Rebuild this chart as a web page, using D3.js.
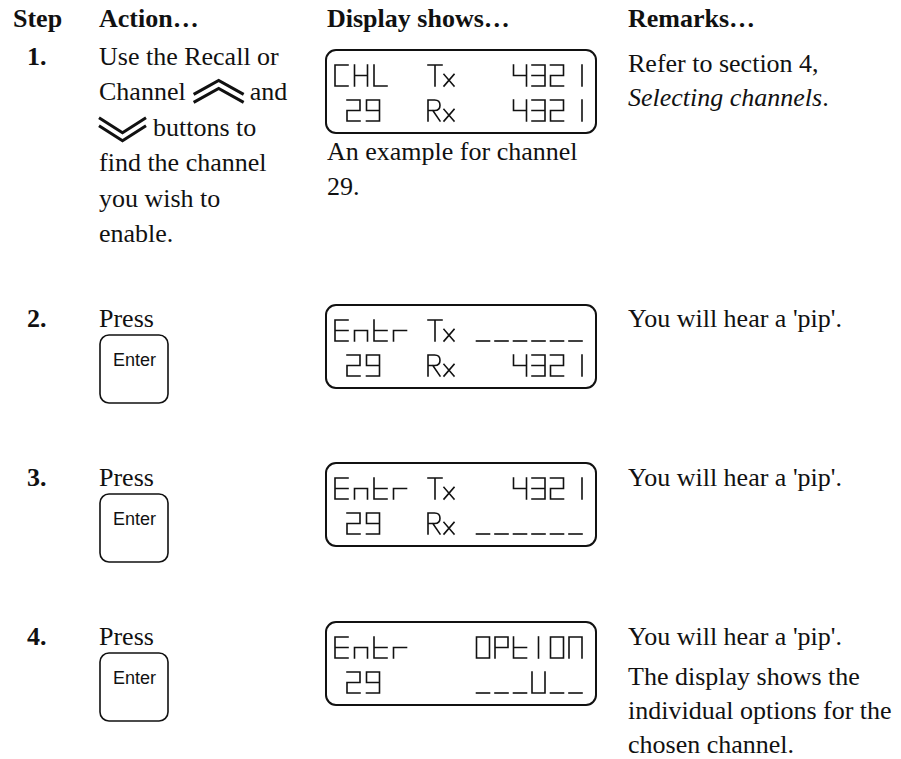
<!DOCTYPE html>
<html><head><meta charset="utf-8">
<script src="https://cdn.jsdelivr.net/npm/d3@7"></script>
<style>html,body{margin:0;padding:0;background:#fff}svg{display:block}</style>
</head><body><div id="chart"></div>
<script>
// ---------- data ----------
const headers = ["Step", "Action\u2026", "Display shows\u2026", "Remarks\u2026"];
const stepLabels = ["1.", "2.", "3.", "4."];
const actionLines = [
  ["Use the Recall or", "Channel [up] and", "[down] buttons to", "find the channel", "you wish to", "enable."],
  ["Press"], ["Press"], ["Press"]
];
const buttonKeys = [null, "Enter", "Enter", "Enter"];
const displayLeft  = [["CHL", "29"], ["Entr", "29"], ["Entr", "29"], ["Entr", "29"]];
const displayLabel = [["Tx", "Rx"], ["Tx", "Rx"], ["Tx", "Rx"], ["", ""]];
const displayRight = [["4321", "4321"], ["______", "4321"], ["4321", "______"], ["OPtION", "___U__"]];
const captions = [["An example for channel", "29."], [], [], []];
const remarks = [
  [[[{t: "Refer to section 4,"}], [{t: "Selecting channels", i: true}, {t: "."}]]],
  [[[{t: "You will hear a 'pip'."}]]],
  [[[{t: "You will hear a 'pip'."}]]],
  [[[{t: "You will hear a 'pip'."}]],
   [[{t: "The display shows the"}], [{t: "individual options for the"}], [{t: "chosen channel."}]]]
];

// ---------- layout ----------
const W = 901, H = 759;
const serif = "'Liberation Serif','Times New Roman',Times,serif";
const sans = "'Liberation Sans',Arial,Helvetica,sans-serif";
const FS = 26, lineH = 35.4, remLineH = 34, paraGap = 6;
const headerX = [13, 99, 327, 628];
const headerBase = 27;
const stepX = 27, actionX = 99, dispX = 327, remX = 628;
const rowBase = [65, 327, 486, 645];
const boxTop = [50, 305, 463, 622];
const remOffset = [7, 0, 0, 0];
const ink = "#111";

const svg = d3.select("#chart").append("svg").attr("width", W).attr("height", H);

// headers
svg.append("g").selectAll("text").data(headers).join("text")
  .attr("x", (d, i) => headerX[i]).attr("y", headerBase)
  .attr("font-family", serif).attr("font-size", FS).attr("font-weight", "bold")
  .attr("fill", ink).text(d => d);

// step numbers
svg.append("g").selectAll("text").data(stepLabels).join("text")
  .attr("x", stepX).attr("y", (d, i) => rowBase[i])
  .attr("font-family", serif).attr("font-size", FS).attr("font-weight", "bold")
  .attr("fill", ink).text(d => d);

// chevrons
function upChevron(g, x0, b) {
  const w = 50;
  [[-20, -6], [-12, 2]].forEach(([ap, en]) => {
    g.append("path").attr("d", `M${x0},${b + en}L${x0 + w / 2},${b + ap}L${x0 + w},${b + en}`)
      .attr("fill", "none").attr("stroke", ink).attr("stroke-width", 3);
  });
  return w;
}
function downChevron(g, x0, b) {
  const w = 47;
  [[-18, -3], [-10, 5]].forEach(([en, ap]) => {
    g.append("path").attr("d", `M${x0},${b + en}L${x0 + w / 2},${b + ap}L${x0 + w},${b + en}`)
      .attr("fill", "none").attr("stroke", ink).attr("stroke-width", 3);
  });
  return w;
}
function serifText(g, x, y, str, italic) {
  return g.append("text").attr("x", x).attr("y", y)
    .attr("font-family", serif).attr("font-size", FS)
    .attr("font-style", italic ? "italic" : "normal")
    .attr("fill", ink).text(str);
}

// actions
actionLines.forEach((lines, i) => {
  const g = svg.append("g");
  lines.forEach((line, j) => {
    const b = rowBase[i] + j * lineH;
    const parts = line.split(/(\[up\]|\[down\])/).map(s => s.trim()).filter(s => s.length);
    let x = actionX;
    parts.forEach(p => {
      if (p === "[up]") { x += 8 + upChevron(g, x + 8, b) + 6; }
      else if (p === "[down]") { x += downChevron(g, x, b) + 7; }
      else {
        const t = serifText(g, x, b, p);
        x += t.node().getComputedTextLength();
      }
    });
  });
});

// buttons
buttonKeys.forEach((k, i) => {
  if (!k) return;
  const top = rowBase[i] + 8;
  svg.append("rect").attr("x", 100).attr("y", top).attr("width", 68).attr("height", 68)
    .attr("rx", 9).attr("fill", "#fff").attr("stroke", ink).attr("stroke-width", 1.6);
  svg.append("text").attr("x", 113).attr("y", top + 31)
    .attr("font-family", sans).attr("font-size", 18).attr("fill", ink).text(k);
});

// ---------- LCD glyphs ----------
const SEG = {
  "0": "abcdef", "O": "abcdef", "1": "bc", "2": "abged", "3": "abgcd", "4": "fgbc", "9": "abcdfg",
  "C": "afed", "H": "febcg", "L": "fed", "E": "afged", "n": "gec", "t": "fedg", "r": "eg",
  "P": "abfge", "N": "abcef", "U": "bcdef", "_": "d"
};
function segLines(s, w, h) {
  const m = h / 2;
  const L = {a: [0, 0, w, 0], b: [w, 0, w, m], c: [w, m, w, h], d: [0, h, w, h],
             e: [0, m, 0, h], f: [0, 0, 0, m], g: [0, m, w, m]};
  return s.split("").map(k => L[k]);
}
function glyphPath(ch, w, h) {
  if (ch === "T") return `M0,0H${w}M${w / 2},0V${h}`;
  if (ch === "x") return `M1,${h * 0.45}L${w - 1},${h}M${w - 1},${h * 0.45}L1,${h}`;
  if (ch === "R") return `M0,${h}V0H${w * 0.55}Q${w},0 ${w},${h * 0.25}Q${w},${h * 0.5} ${w * 0.55},${h * 0.5}H0M${w * 0.4},${h * 0.5}L${w},${h}`;
  if (ch === "I") return `M${w / 2},0V${h}`;
  const s = SEG[ch];
  if (!s) return "";
  return segLines(s, w, h).map(([x1, y1, x2, y2]) => `M${x1},${y1}L${x2},${y2}`).join("");
}
function drawField(g, str, x0, y0, pitch, w, h) {
  str.split("").forEach((ch, k) => {
    const d = glyphPath(ch, w, h);
    if (!d) return;
    g.append("path").attr("transform", `translate(${x0 + k * pitch},${y0})`).attr("d", d)
      .attr("fill", "none").attr("stroke", ink).attr("stroke-width", 1.6)
      .attr("stroke-linecap", "square");
  });
}

const GH = 21, GW = 13;
displayLeft.forEach((rows, i) => {
  const bt = boxTop[i];
  const g = svg.append("g");
  g.append("rect").attr("x", 326).attr("y", bt).attr("width", 270).attr("height", 83)
    .attr("rx", 10).attr("fill", "none").attr("stroke", ink).attr("stroke-width", 2);
  const rowTop = [bt + 15, bt + 50];
  rows.forEach((s, r) => {
    drawField(g, s, r === 0 ? 335 : 347, rowTop[r], 19.5, GW, GH);
    const lab = displayLabel[i][r];
    if (lab) {
      drawField(g, lab[0], 428, rowTop[r], 15, lab[0] === "T" ? 14 : 12, GH);
      drawField(g, lab[1], 443, rowTop[r], 15, 12, GH);
    }
    const rs = displayRight[i][r];
    const pitch = 18.5;
    const start = 582 - GW - (rs.length - 1) * pitch;
    drawField(g, rs, start, rowTop[r], pitch, GW, GH);
  });
});

// captions
captions.forEach((lines, i) => {
  lines.forEach((l, j) => serifText(svg, dispX, boxTop[i] + 83 + 27 + j * lineH, l));
});

// remarks
remarks.forEach((paras, i) => {
  let y = rowBase[i] + remOffset[i];
  paras.forEach((para, p) => {
    if (p > 0) y += paraGap;
    para.forEach(line => {
      const t = svg.append("text").attr("x", remX).attr("y", y)
        .attr("font-family", serif).attr("font-size", FS).attr("fill", ink);
      line.forEach(seg => t.append("tspan").attr("font-style", seg.i ? "italic" : "normal").text(seg.t));
      y += remLineH;
    });
  });
});
</script></body></html>
